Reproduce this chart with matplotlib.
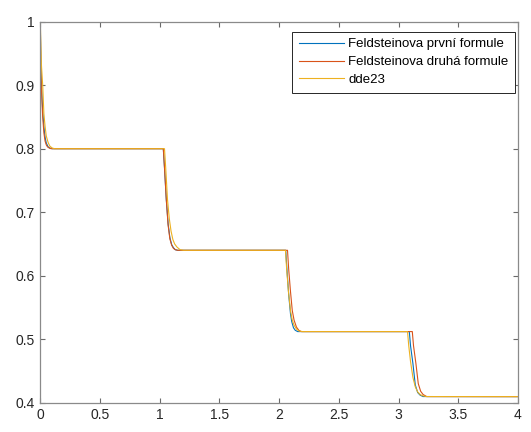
import matplotlib
matplotlib.use("Agg")
import matplotlib.pyplot as plt

# Valeurs (points le long des courbes)
t_prvni = [0, 0.004, 0.01, 0.02, 0.03, 0.04, 0.05, 0.065, 0.08, 0.1,
           1.03, 1.04, 1.055, 1.07, 1.085, 1.1, 1.115, 1.13, 1.15,
           2.055, 2.065, 2.08, 2.095, 2.105, 2.12, 2.135, 2.155,
           3.09, 3.1, 3.12, 3.14, 3.16, 3.18, 3.205, 4.0]
y_prvni = [1.0, 0.94, 0.9, 0.86, 0.835, 0.818, 0.809, 0.803, 0.801, 0.8,
           0.8, 0.77, 0.72, 0.682, 0.66, 0.649, 0.644, 0.641, 0.64,
           0.64, 0.61, 0.57, 0.54, 0.528, 0.518, 0.514, 0.512,
           0.512, 0.49, 0.462, 0.428, 0.416, 0.412, 0.4097, 0.4096]

t_druha = [0, 0.004, 0.01, 0.02, 0.03, 0.04, 0.05, 0.06, 0.075, 0.09,
           1.03, 1.04, 1.055, 1.07, 1.085, 1.1, 1.115, 1.13, 1.15,
           2.07, 2.08, 2.095, 2.11, 2.125, 2.145, 2.165, 2.185,
           3.115, 3.125, 3.145, 3.165, 3.185, 3.205, 3.235, 4.0]
y_druha = [1.0, 0.93, 0.89, 0.85, 0.825, 0.812, 0.806, 0.803, 0.801, 0.8,
           0.8, 0.77, 0.72, 0.68, 0.658, 0.648, 0.643, 0.641, 0.64,
           0.64, 0.61, 0.575, 0.545, 0.53, 0.519, 0.514, 0.512,
           0.512, 0.49, 0.462, 0.43, 0.418, 0.413, 0.4097, 0.4096]

t_dde23 = [0, 0.005, 0.01, 0.02, 0.03, 0.04, 0.05, 0.065, 0.08, 0.1, 0.12,
           1.04, 1.05, 1.065, 1.08, 1.095, 1.11, 1.125, 1.145, 1.17, 1.2,
           2.053, 2.063, 2.078, 2.095, 2.11, 2.125, 2.145, 2.165, 2.195, 2.225,
           3.075, 3.085, 3.1, 3.12, 3.14, 3.16, 3.18, 3.2, 3.235, 4.0]
y_dde23 = [1.0, 0.96, 0.93, 0.9, 0.855, 0.835, 0.82, 0.81, 0.804, 0.801, 0.8,
           0.8, 0.77, 0.72, 0.69, 0.67, 0.657, 0.65, 0.645, 0.641, 0.64,
           0.64, 0.61, 0.575, 0.545, 0.53, 0.522, 0.516, 0.513, 0.512, 0.512,
           0.512, 0.49, 0.465, 0.44, 0.425, 0.417, 0.413, 0.411, 0.4097, 0.4096]

legenda = ["Feldsteinova první formule", "Feldsteinova druhá formule", "dde23"]
x_ticks = [0, 0.5, 1, 1.5, 2, 2.5, 3, 3.5, 4]
x_labels = ["0", "0.5", "1", "1.5", "2", "2.5", "3", "3.5", "4"]
y_ticks = [0.4, 0.5, 0.6, 0.7, 0.8, 0.9, 1.0]
y_labels = ["0.4", "0.5", "0.6", "0.7", "0.8", "0.9", "1"]

plt.rcParams["font.family"] = ["Liberation Sans", "DejaVu Sans"]

fig = plt.figure(figsize=(5.31, 4.32), dpi=100)
ax = fig.add_axes([0.0759, 0.0678, 0.8996, 0.882])

ax.plot(t_prvni, y_prvni, color="#0072BD", lw=0.8, label=legenda[0])
ax.plot(t_druha, y_druha, color="#D95319", lw=0.8, label=legenda[1])
ax.plot(t_dde23, y_dde23, color="#EDB120", lw=0.8, label=legenda[2])

ax.set_xlim(0, 4)
ax.set_ylim(0.4, 1)
ax.set_xticks(x_ticks)
ax.set_xticklabels(x_labels)
ax.set_yticks(y_ticks)
ax.set_yticklabels(y_labels)

for s in ax.spines.values():
    s.set_color("#8a8a8a")
    s.set_linewidth(0.9)
ax.tick_params(direction="in", length=3.5, width=0.8, color="#6a6a6a",
               labelcolor="#262626", labelsize=10, top=True, right=True, pad=4)

leg = ax.legend(loc="upper right", bbox_to_anchor=(0.994, 0.974), fontsize=9.5,
                handlelength=3.4, handletextpad=0.35, borderaxespad=0,
                labelspacing=0.42, fancybox=False, framealpha=1,
                edgecolor="#262626", borderpad=0.5)
leg.get_frame().set_linewidth(0.7)

fig.savefig("out.png", dpi=100)
